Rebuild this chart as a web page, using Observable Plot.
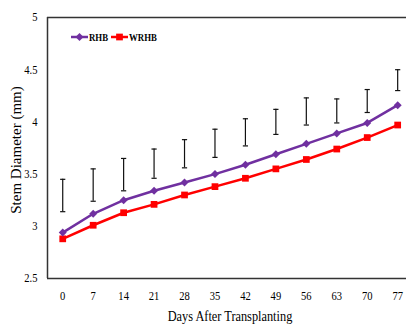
<!DOCTYPE html>
<html><head><meta charset="utf-8">
<script src="https://cdn.jsdelivr.net/npm/d3@7"></script>
<script src="https://cdn.jsdelivr.net/npm/@observablehq/plot@0.6"></script>
<style>
html,body{margin:0;padding:0;background:#fff;overflow:hidden;}
#wrap{position:relative;width:406px;height:329px;}
#legend{position:absolute;left:0;top:0;pointer-events:none;}
</style></head><body><div id="wrap"></div>
<script>
// Data
const days = [0, 7, 14, 21, 28, 35, 42, 49, 56, 63, 70, 77];
const rhb = [2.94, 3.12, 3.25, 3.34, 3.42, 3.50, 3.59, 3.69, 3.79, 3.89, 3.99, 4.16];
const wrhb = [2.88, 3.01, 3.13, 3.21, 3.30, 3.38, 3.46, 3.55, 3.64, 3.74, 3.85, 3.97];
const errLow = [3.14, 3.24, 3.34, 3.46, 3.56, 3.66, 3.77, 3.88, 3.97, 3.99, 4.09, 4.30];
const errHigh = [3.45, 3.55, 3.65, 3.74, 3.83, 3.93, 4.03, 4.12, 4.23, 4.22, 4.31, 4.50];
const seriesNames = ["RHB", "WRHB"];
const seriesColors = ["#7030A0", "#FF0000"];
const yTicks = [2.5, 3, 3.5, 4, 4.5, 5];
const xDomain = [-3.5, 80.5];
const yDomain = [2.5, 5];
const xTitle = "Days After Transplanting";
const yTitle = "Stem Diameter (mm)";

const rows = days.map((d, i) => ({day: d, RHB: rhb[i], WRHB: wrhb[i], lo: errLow[i], hi: errHigh[i]}));
const font = '"Liberation Serif","Times New Roman",serif';
const capSymbol = {draw(ctx, size) { const r = Math.sqrt(size / Math.PI); ctx.moveTo(-r, 0); ctx.lineTo(r, 0); }};

const chart = Plot.plot({
  width: 406, height: 329,
  marginLeft: 47, marginTop: 17, marginBottom: 51, marginRight: 0,
  style: {fontFamily: font, fontSize: "12px", color: "#000", background: "#fff"},
  x: {type: "linear", domain: xDomain, range: [47, 412.4]},
  y: {type: "linear", domain: yDomain, range: [278, 17]},
  marks: [
    Plot.ruleY(yDomain, {stroke: "#333", strokeWidth: 1.5}),
    Plot.ruleX([xDomain[0]], {stroke: "#333", strokeWidth: 1.5}),
    Plot.ruleX(rows, {x: "day", y1: "lo", y2: "hi", stroke: "#111", strokeWidth: 1.2}),
    Plot.dot(rows, {x: "day", y: "lo", symbol: capSymbol, r: 2.6, stroke: "#111", strokeWidth: 1.2}),
    Plot.dot(rows, {x: "day", y: "hi", symbol: capSymbol, r: 2.6, stroke: "#111", strokeWidth: 1.2}),
    Plot.line(rows, {x: "day", y: "WRHB", stroke: seriesColors[1], strokeWidth: 2.5}),
    Plot.dot(rows, {x: "day", y: "WRHB", symbol: "square", r: 3.8, fill: seriesColors[1]}),
    Plot.line(rows, {x: "day", y: "RHB", stroke: seriesColors[0], strokeWidth: 2.5}),
    Plot.dot(rows, {x: "day", y: "RHB", symbol: "diamond2", r: 3.6, fill: seriesColors[0]}),
    Plot.axisY({ticks: yTicks, tickSize: 0, tickPadding: 10, tickFormat: d => String(d), label: null}),
    Plot.axisX({ticks: days, tickSize: 0, tickPadding: 13, tickFormat: d => String(d), label: null}),
    Plot.text([xTitle], {frameAnchor: "bottom", dx: 3, dy: 42, fontSize: 14}),
    Plot.text([yTitle], {frameAnchor: "left", textAnchor: "middle", rotate: -90, dx: -31, dy: 2, fontSize: 15})
  ]
});

const wrap = document.getElementById("wrap");
wrap.appendChild(chart);

// Legend (decoration, inside the plot area at top-left)
const legend = d3.select(wrap).append("svg").attr("id", "legend")
  .attr("width", 406).attr("height", 329);
const legendX = [71, 111];
const legendY = 37;
seriesNames.forEach((name, i) => {
  const g = legend.append("g").attr("transform", `translate(${legendX[i]},${legendY})`);
  g.append("line").attr("x1", 0).attr("x2", 17).attr("y1", 0).attr("y2", 0)
    .attr("stroke", seriesColors[i]).attr("stroke-width", 2.5);
  const sym = i === 0 ? d3.symbolDiamond2 : d3.symbolSquare;
  const size = i === 0 ? 3.6 * 3.6 * Math.PI : 3.8 * 3.8 * Math.PI;
  g.append("path").attr("d", d3.symbol(sym, size)()).attr("transform", "translate(8.5,0)")
    .attr("fill", seriesColors[i]);
  g.append("text").attr("x", 18).attr("y", 0).attr("dy", "0.35em")
    .attr("font-family", font).attr("font-size", 10).attr("font-weight", "bold")
    .text(name);
});

// Slight horizontal condensation of horizontal text, as in the reference
wrap.querySelectorAll("text").forEach(t => {
  if (t.textContent === yTitle) return;
  const len = t.getComputedTextLength();
  if (len > 0) {
    t.setAttribute("textLength", (len * 0.88).toFixed(2));
    t.setAttribute("lengthAdjust", "spacingAndGlyphs");
  }
});
</script>
</body></html>
